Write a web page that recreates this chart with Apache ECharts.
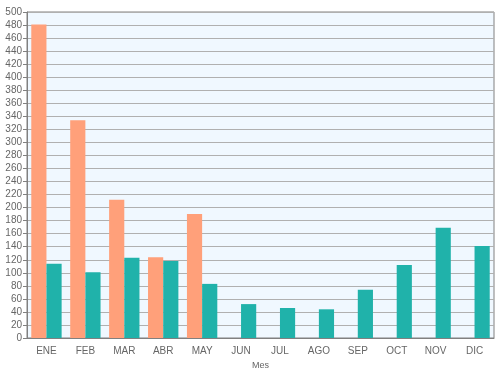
<!DOCTYPE html>
<html><head><meta charset="utf-8">
<script src="https://cdn.jsdelivr.net/npm/echarts@6/dist/echarts.min.js"></script>
<style>html,body{margin:0;padding:0;background:#fff}#c{width:500px;height:375px}</style>
</head><body><div id="c"></div>
<script>
var categories = ['ENE','FEB','MAR','ABR','MAY','JUN','JUL','AGO','SEP','OCT','NOV','DIC'];
var seriesA = [481, 334, 212, 124, 190, null, null, null, null, null, null, null];
var seriesB = [114, 101, 123, 118, 83, 52, 46, 44, 74, 112, 169, 141];
var yTicks = {min: 0, max: 500, interval: 20};

var chart = echarts.init(document.getElementById('c'), null, {renderer: 'canvas'});
var font = 'Liberation Sans, Arial, sans-serif';
chart.setOption({
  animation: false,
  grid: {left: 27, right: 6, top: 12, bottom: 37, show: true, backgroundColor: '#F0F8FF', borderColor: '#808080', borderWidth: 1},
  xAxis: {
    type: 'category', data: categories,
    name: 'Mes', nameLocation: 'middle', nameGap: 20,
    nameTextStyle: {color: '#666', fontSize: 9, fontFamily: font},
    axisLine: {lineStyle: {color: '#808080'}},
    axisTick: {alignWithLabel: true, length: 4, lineStyle: {color: '#808080'}},
    axisLabel: {color: '#666', fontSize: 10, fontFamily: font, margin: 8},
    splitLine: {show: false}
  },
  yAxis: {
    type: 'value', min: yTicks.min, max: yTicks.max, interval: yTicks.interval,
    axisLine: {show: true, lineStyle: {color: '#808080'}},
    axisTick: {show: true, length: 4, lineStyle: {color: '#808080'}},
    axisLabel: {color: '#666', fontSize: 10, fontFamily: font, margin: 5},
    splitLine: {lineStyle: {color: '#b0b0b0', width: 1}}
  },
  series: [
    {type: 'bar', data: seriesA, itemStyle: {color: '#FFA07A'}, barGap: '0%', barCategoryGap: '22%'},
    {type: 'bar', data: seriesB, itemStyle: {color: '#20B2AA'}, barGap: '0%', barCategoryGap: '22%'}
  ]
});
</script></body></html>
